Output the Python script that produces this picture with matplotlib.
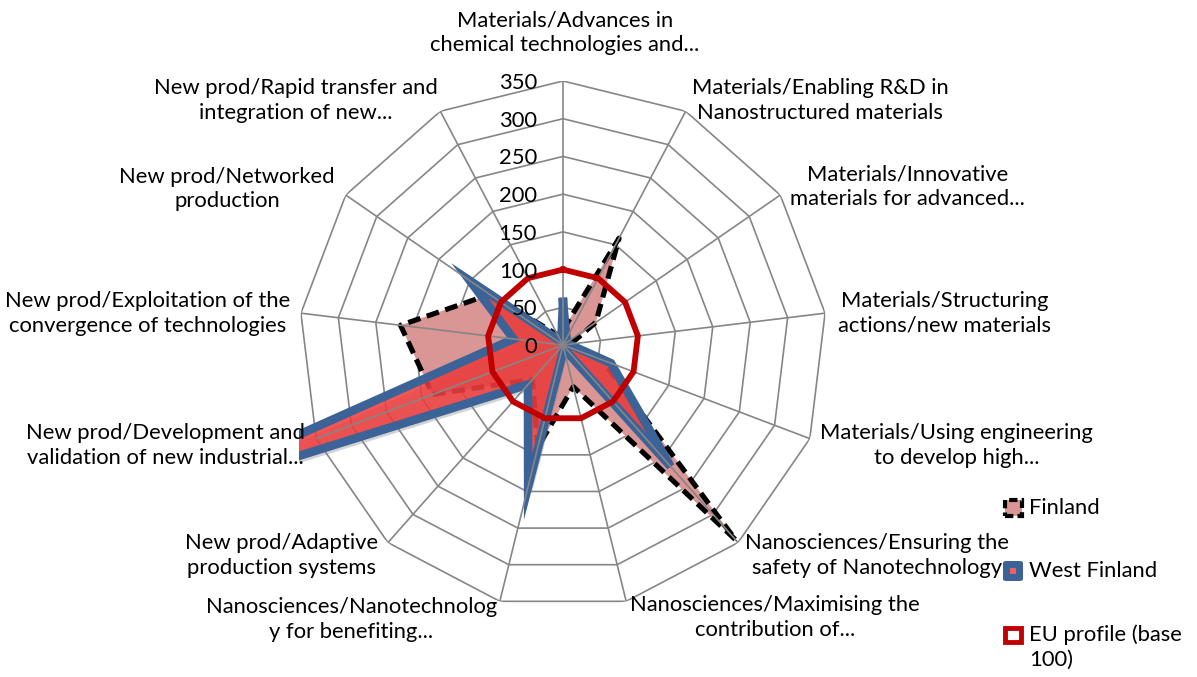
import numpy as np
import matplotlib.pyplot as plt
import matplotlib.transforms as mtransforms
from matplotlib.patches import Rectangle, FancyBboxPatch

plt.rcParams['font.family'] = ['Lato', 'DejaVu Sans']

# Data
categories = [
    "Materials/Advances in\nchemical technologies and...",
    "Materials/Enabling R&D in\nNanostructured materials",
    "Materials/Innovative\nmaterials for advanced...",
    "Materials/Structuring\nactions/new materials",
    "Materials/Using engineering\nto develop high...",
    "Nanosciences/Ensuring the\nsafety of Nanotechnology",
    "Nanosciences/Maximising the\ncontribution of...",
    "Nanosciences/Nanotechnolog\ny for benefiting...",
    "New prod/Adaptive\nproduction systems",
    "New prod/Development and\nvalidation of new industrial...",
    "New prod/Exploitation of the\nconvergence of technologies",
    "New prod/Networked\nproduction",
    "New prod/Rapid transfer and\nintegration of new...",
]
finland = [20, 160, 53, 10, 55, 345, 57, 140, 61, 185, 217, 118, 15]
west_finland = [57, 10, 5, 8, 68, 215, 5, 193, 70, 600, 66, 150, 5]
eu_profile = [100] * 13
r_ticks = [0, 50, 100, 150, 200, 250, 300, 350]
series_names = ["Finland", "West Finland", "EU profile (base\n100)"]

W, H = 1197, 677
FS = 15.8
fig = plt.figure(figsize=(W / 100, H / 100), dpi=100)
ax = fig.add_axes([299 / W, 68 / H, 528 / W, 528 / H], projection='polar')
ax.set_theta_zero_location('N')
ax.set_theta_direction(-1)
ax.set_ylim(0, r_ticks[-1])
ax.set_xticks([])
ax.set_yticks([])
ax.grid(False)
ax.spines['polar'].set_visible(False)

n = len(categories)
theta = np.arange(n) * 2 * np.pi / n
th = np.append(theta, theta[0])


def closed(v):
    return np.append(v, v[0])


grid_col = '#868686'
# value rings (polygons)
for r in r_ticks[1:]:
    ax.plot(th, [r] * (n + 1), color=grid_col, lw=1.2, zorder=0)

# Finland
ax.fill(th, closed(finland), color='#D99694', lw=0, zorder=1)
ax.plot(th, closed(finland), color='black', lw=3.7, ls=(0, (2.5, 1.3)),
        zorder=2, dash_capstyle='butt')

# West Finland (clipped to plot area rectangle, not the circle)
shadow_tr = mtransforms.offset_copy(ax.transData, fig, x=4, y=-6, units='dots')
wf_shadow = ax.fill(th, closed(west_finland), color='#7f7f7f', alpha=0.35,
                    lw=0, zorder=2.5, transform=shadow_tr)
wf_fill = ax.fill(th, closed(west_finland), color='#F03A3A', alpha=0.85,
                  lw=0, zorder=3)
wf_line = ax.plot(th, closed(west_finland), color='#3B6397', lw=6.2,
                  zorder=4, solid_joinstyle='miter')
for art in wf_shadow + wf_fill + wf_line:
    art.set_clip_path(None)
    art.set_clip_box(ax.bbox)

# spokes
for t in theta:
    ax.plot([t, t], [0, r_ticks[-1]], color=grid_col, lw=1.2, zorder=5)

# EU profile
ax.plot(th, closed(eu_profile), color='#C00000', lw=4.2, zorder=6,
        solid_joinstyle='miter')

# value tick labels
for r in r_ticks:
    ax.annotate(str(r), xy=(0, r), xytext=(-26, -2), textcoords='offset pixels',
                ha='right', va='center', fontsize=FS, zorder=10,
                annotation_clip=False)

# category labels
offsets = [(2, 48), (6, 11), (10, 8), (13, 0), (10, -7), (7, -13), (4, -16),
           (-3, -18), (-10, -13), (-11, -7), (-11, 0), (-11, 6), (-3, 11)]
for k, (lab, t) in enumerate(zip(categories, theta)):
    if k == 0:
        ha = 'center'
    elif k <= 6:
        ha = 'left'
    else:
        ha = 'right'
    ax.annotate(lab, xy=(t, r_ticks[-1]), xytext=offsets[k],
                textcoords='offset pixels', ha=ha, va='center',
                multialignment='center', fontsize=FS, zorder=10,
                annotation_clip=False, linespacing=1.3)


# legend (drawn by hand, Excel-style spacing)
def fx(x):
    return x / W


def fy(y):
    return 1 - y / H


# Finland
fig.add_artist(Rectangle((fx(1005), fy(516)), 17 / W, 16 / H,
                         transform=fig.transFigure, facecolor='#D99694',
                         edgecolor='black', lw=3, ls=(0, (2, 1))))
# West Finland
fig.add_artist(FancyBboxPatch((fx(1003), fy(581)), 20 / W, 20 / H,
                              boxstyle='round,pad=0,rounding_size=0.003',
                              transform=fig.transFigure, facecolor='#3B6397',
                              edgecolor='none'))
fig.add_artist(Rectangle((fx(1010), fy(574)), 6 / W, 6 / H,
                         transform=fig.transFigure, facecolor='#F06060',
                         edgecolor='none'))
# EU profile
fig.add_artist(Rectangle((fx(1005), fy(642)), 16 / W, 14 / H,
                         transform=fig.transFigure, facecolor='white',
                         edgecolor='#C00000', lw=3.5))

legend_y = [508, 571, 624]
for name, y in zip(series_names, legend_y):
    fig.text(fx(1029), fy(y), name, ha='left', va='top' if '\n' in name else 'center',
             fontsize=FS, linespacing=1.3)

fig.savefig('out.png', dpi=100)
